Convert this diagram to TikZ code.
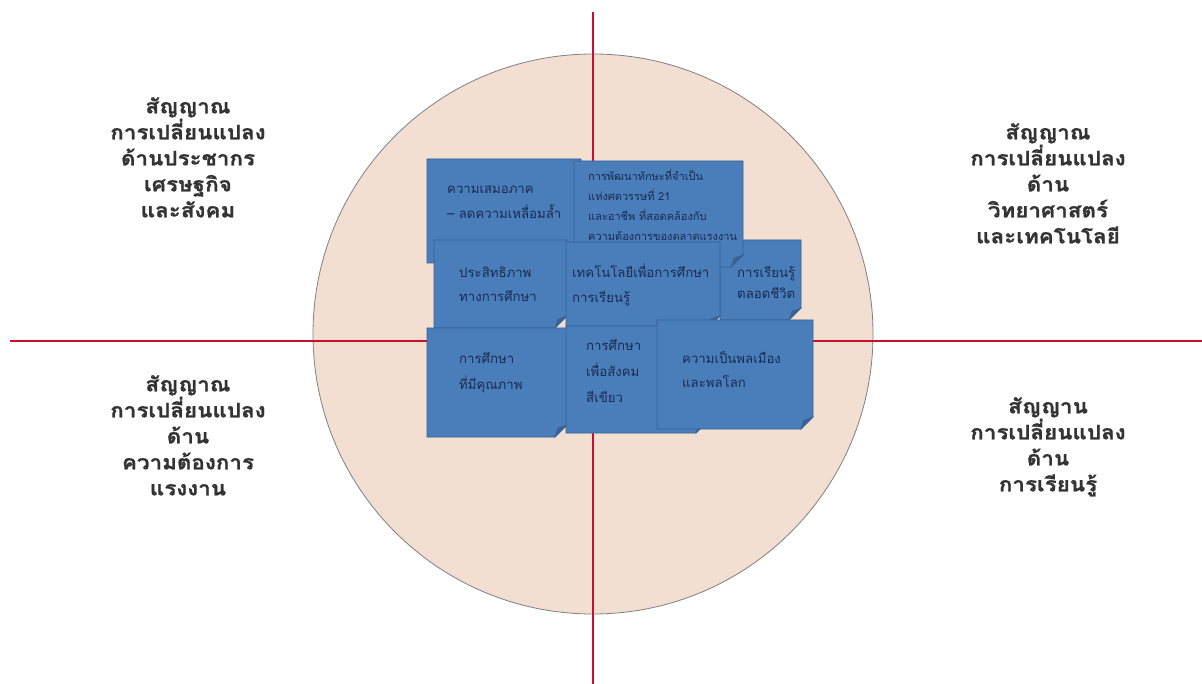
\documentclass[tikz,border=0pt]{standalone}
\usepackage{fontspec}
\newfontfamily\thaifont[Script=Thai]{Loma}
\newfontfamily\thaiwide[Script=Thai,FakeStretch=1.12,FakeBold=1]{Loma}
\definecolor{peach}{HTML}{F2DFD2}
\definecolor{rimgray}{HTML}{808080}
\definecolor{axisred}{HTML}{C8102E}
\definecolor{noteblue}{HTML}{4A7EBB}
\definecolor{noteedge}{HTML}{385F91}
\definecolor{notefold}{HTML}{3B6496}
\definecolor{notetext}{HTML}{1A2B50}
\newcommand\notebox[4]{%
  \fill[noteblue,draw=noteedge,line width=0.8pt]
    (#1,#2) -- (#3,#2) -- (#3,#4-12) -- (#3-12,#4) -- (#1,#4) -- cycle;
  \fill[notefold,draw=noteedge,line width=0.6pt]
    (#3,#4-12) -- (#3-12,#4) -- (#3-9,#4-9) -- cycle;
}
\tikzset{
  boxtext/.style={anchor=west,align=left,inner sep=0pt,text=notetext,
    font=\thaifont\fontsize{13.2}{25}\selectfont},
  smalltext/.style={boxtext,font=\thaifont\fontsize{11}{20}\selectfont},
  cornerlabel/.style={anchor=north,align=center,inner sep=0pt,text=black!80,
    font=\thaiwide\bfseries\fontsize{20}{26}\selectfont},
  axis/.style={draw=axisred,line width=1.5pt}
}
\begin{document}
\begin{tikzpicture}[x=1pt,y=-1pt]
\useasboundingbox[fill=white] (0,0) rectangle (1202,684);
% circle
\fill[peach,draw=rimgray,line width=0.8pt] (593,334) circle (280);
% axes
\coordinate (vtop) at (593,12);
\coordinate (vbot) at (593,684);
\coordinate (hleft) at (10,341);
\coordinate (hright) at (1202,341);
\draw[axis] (vtop) -- (vbot);
\draw[axis] (hleft) -- (hright);
% boxes (back to front)
\notebox{427}{159}{581}{263}
\notebox{720}{240}{801}{320}
\notebox{574}{161}{743}{267}
\notebox{434}{240}{567}{328}
\notebox{566}{242}{720}{328}
\notebox{427}{328}{567}{437}
\notebox{566}{326}{708}{433}
\notebox{657}{320}{813}{429}
% box texts
\node[boxtext] (t1) at (447,202.5) {ความเสมอภาค\\– ลดความเหลื่อมล้ำ};
\node[smalltext] (t2) at (588,205) {การพัฒนาทักษะที่จำเป็น\\แห่งศตวรรษที่ 21\\และอาชีพ ที่สอดคล้องกับ\\ความต้องการของตลาดแรงงาน};
\node[boxtext,font=\thaifont\fontsize{13.2}{24}\selectfont] (t3) at (459,284) {ประสิทธิภาพ\\ทางการศึกษา};
\node[boxtext] (t4) at (572,284.5) {เทคโนโลยีเพื่อการศึกษา\\การเรียนรู้};
\node[boxtext,font=\thaifont\fontsize{13.2}{21}\selectfont] (t5) at (737,282.5) {การเรียนรู้\\ตลอดชีวิต};
\node[boxtext,font=\thaifont\fontsize{13.2}{26}\selectfont] (t6) at (459,373) {การศึกษา\\ที่มีคุณภาพ};
\node[boxtext,font=\thaifont\fontsize{13.2}{26}\selectfont] (t7) at (586,371) {การศึกษา\\เพื่อสังคม\\สีเขียว};
\node[boxtext,font=\thaifont\fontsize{13.2}{24}\selectfont] (t8) at (682,369) {ความเป็นพลเมือง\\และพลโลก};
% corner labels
\node[cornerlabel] (tl) at (188,97) {สัญญาณ\\การเปลี่ยนแปลง\\ด้านประชากร\\เศรษฐกิจ\\และสังคม};
\node[cornerlabel] (tr) at (1048,123) {สัญญาณ\\การเปลี่ยนแปลง\\ด้าน\\วิทยาศาสตร์\\และเทคโนโลยี};
\node[cornerlabel] (bl) at (188,375) {สัญญาณ\\การเปลี่ยนแปลง\\ด้าน\\ความต้องการ\\แรงงาน};
\node[cornerlabel] (br) at (1048,397) {สัญญาน\\การเปลี่ยนแปลง\\ด้าน\\การเรียนรู้};
\end{tikzpicture}
\end{document}
